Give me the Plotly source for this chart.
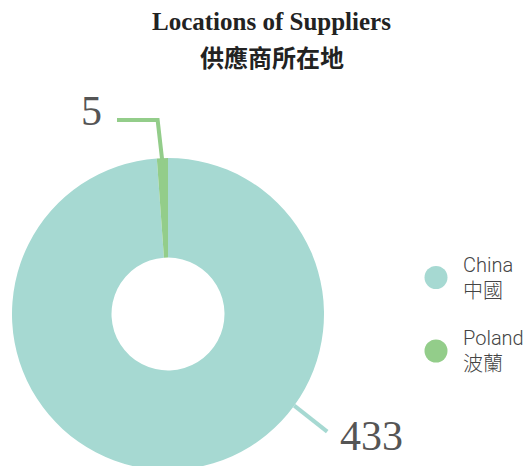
import math
import plotly.graph_objects as go

# ---- data ----
categories_en = ["China", "Poland"]
categories_zh = ["中國", "波蘭"]
supplier_counts = [433, 5]
colors = ["#a6d9d2", "#93cd8a"]
title_en = "Locations of Suppliers"
title_zh = "供應商所在地"

W, H = 523, 474
# pie geometry in page pixels
cx, cy, R = 168, 314, 156
hole = 56.5 / 156


def px(x):
    return x / W


def py(y):
    return 1 - y / H


fig = go.Figure()
fig.add_trace(go.Pie(
    labels=[f"{e} {z}" for e, z in zip(categories_en, categories_zh)],
    values=supplier_counts,
    marker=dict(colors=colors, line=dict(width=0)),
    hole=hole,
    sort=False,
    direction="clockwise",
    rotation=0,
    textinfo="none",
    hoverinfo="label+value",
    showlegend=False,
    domain=dict(x=[px(cx - R), px(cx + R)], y=[py(cy + R), py(cy - R)]),
))

total = sum(supplier_counts)
shapes = []
annotations = []

# mid angles, clockwise from 12 o'clock
cum = 0
mid_angles = []
for v in supplier_counts:
    mid_angles.append((cum + v / 2) / total * 360)
    cum += v

# Poland (small slice near top): elbow line going up then left
a = math.radians(mid_angles[1])
sx, sy = cx + R * 0.96 * math.sin(a), cy - R * 0.96 * math.cos(a)
ex, ey = sx - 5, 120
lx = 117
shapes.append(dict(
    type="path", xref="paper", yref="paper",
    path=f"M {px(sx)} {py(sy)} L {px(ex)} {py(ey)} L {px(lx)} {py(ey)}",
    line=dict(color=colors[1], width=4),
))
annotations.append(dict(
    x=px(lx - 13), y=py(111), xref="paper", yref="paper",
    text=str(supplier_counts[1]), showarrow=False,
    xanchor="right", yanchor="middle",
    font=dict(family="Liberation Serif", size=42, color="#555555"),
))

# China: straight line from lower-right edge
a = math.radians(126)
sx, sy = cx + R * math.sin(a), cy - R * math.cos(a)
ex, ey = sx + 33, sy + 26
shapes.append(dict(
    type="line", xref="paper", yref="paper",
    x0=px(sx), y0=py(sy), x1=px(ex), y1=py(ey),
    line=dict(color=colors[0], width=4),
))
annotations.append(dict(
    x=px(ex + 11), y=py(ey + 4), xref="paper", yref="paper",
    text=str(supplier_counts[0]), showarrow=False,
    xanchor="left", yanchor="middle",
    font=dict(family="Liberation Serif", size=42, color="#555555"),
))

# manual legend with circle markers
leg_x, leg_y0, leg_dy, r = 436, 277.5, 73.5, 11.5
for i, (en, zh) in enumerate(zip(categories_en, categories_zh)):
    yc = leg_y0 + i * leg_dy
    shapes.append(dict(
        type="circle", xref="paper", yref="paper",
        x0=px(leg_x - r), x1=px(leg_x + r), y0=py(yc + r), y1=py(yc - r),
        fillcolor=colors[i], line=dict(width=0),
    ))
    annotations.append(dict(
        x=px(461), y=py(yc), xref="paper", yref="paper",
        text=f"{en}<br>{zh}", showarrow=False, align="left",
        xanchor="left", yanchor="middle",
        font=dict(family="Roboto, Noto Sans CJK TC", size=20, color="#444444",
                  weight=300),
    ))

# title
annotations.append(dict(
    x=px(271.5), y=py(21), xref="paper", yref="paper",
    text=f"<b>{title_en}</b>", showarrow=False,
    xanchor="center", yanchor="middle",
    font=dict(family="Liberation Serif", size=25, color="#222222"),
))
annotations.append(dict(
    x=px(271.5), y=py(56), xref="paper", yref="paper",
    text=f"<b>{title_zh}</b>", showarrow=False,
    xanchor="center", yanchor="middle",
    font=dict(family="Noto Sans CJK TC", size=24, color="#222222"),
))

fig.update_layout(
    width=W, height=H,
    margin=dict(l=0, r=0, t=0, b=0),
    paper_bgcolor="white", plot_bgcolor="white",
    shapes=shapes, annotations=annotations,
    showlegend=False,
)

fig.write_html(
    "out.html",
    config={"displayModeBar": False},
    post_script=(
        "document.body.style.margin='0';"
        "document.body.style.overflow='hidden';"
        "document.documentElement.style.overflow='hidden';"
    ),
)
